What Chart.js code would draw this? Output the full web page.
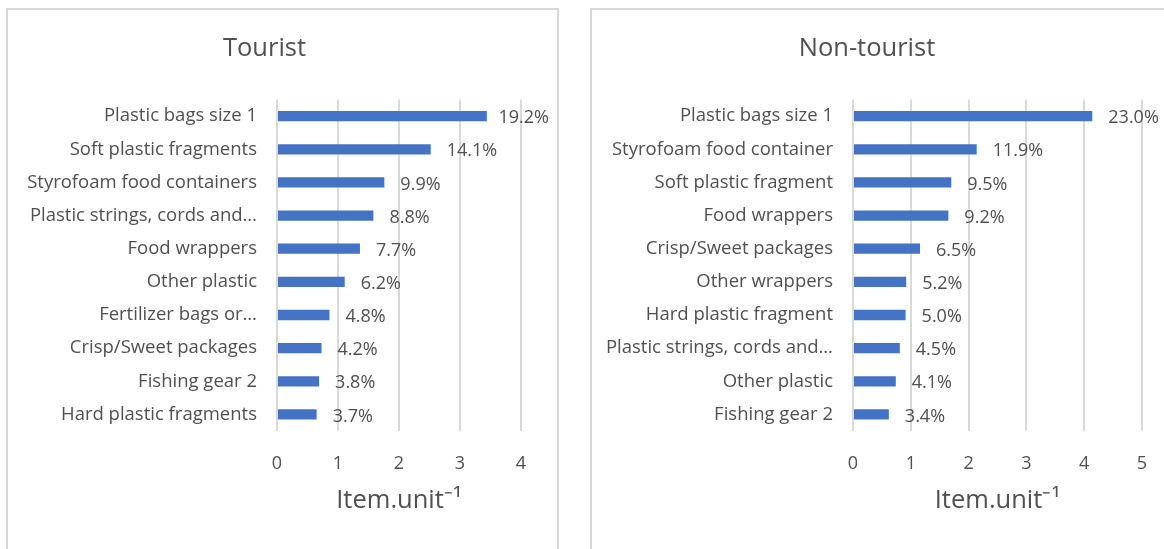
<!DOCTYPE html>
<html lang="en">
<head>
    <meta charset="UTF-8" />
    <title>Tourist vs Non-tourist</title>
    <script src="https://cdn.jsdelivr.net/npm/chart.js"></script>
    <style>
        html, body { margin: 0; padding: 0; background: #fff; overflow: hidden; width: 1164px; height: 549px; }
        .box { position: absolute; border: 2px solid #d9d9d9; background: #fff; }
        #box1 { left: 6px; top: 8px; width: 549px; height: 560px; }
        #box2 { left: 590px; top: 8px; width: 584px; height: 560px; }
        canvas { display: block; }
    </style>
</head>
<body>

<div class="box" id="box1"><canvas id="canvas1" width="549" height="539"></canvas></div>
<div class="box" id="box2"><canvas id="canvas2" width="584" height="539"></canvas></div>

<script>
    // Tourist
    const touristLabels = [
        'Plastic bags size 1', 'Soft plastic fragments', 'Styrofoam food containers',
        'Plastic strings, cords and…', 'Food wrappers', 'Other plastic',
        'Fertilizer bags or…', 'Crisp/Sweet packages', 'Fishing gear 2', 'Hard plastic fragments'
    ];
    const touristValues = [3.44, 2.52, 1.76, 1.58, 1.36, 1.11, 0.86, 0.73, 0.69, 0.65];
    const touristPct = [19.2, 14.1, 9.9, 8.8, 7.7, 6.2, 4.8, 4.2, 3.8, 3.7];
    const touristTicks = [0, 1, 2, 3, 4];

    // Non-tourist
    const nonTouristLabels = [
        'Plastic bags size 1', 'Styrofoam food container', 'Soft plastic fragment',
        'Food wrappers', 'Crisp/Sweet packages', 'Other wrappers',
        'Hard plastic fragment', 'Plastic strings, cords and…', 'Other plastic', 'Fishing gear 2'
    ];
    const nonTouristValues = [4.14, 2.14, 1.70, 1.65, 1.16, 0.92, 0.91, 0.81, 0.74, 0.62];
    const nonTouristPct = [23.0, 11.9, 9.5, 9.2, 6.5, 5.2, 5.0, 4.5, 4.1, 3.4];
    const nonTouristTicks = [0, 1, 2, 3, 4, 5];

    const FONT = '"Open Sans"';
    const GREY = '#505050';

    // etiquetas de porcentagem no fim das barras
    const pctLabels = {
        id: 'pctLabels',
        afterDatasetsDraw(chart, args, opts) {
            const ctx = chart.ctx;
            const meta = chart.getDatasetMeta(0);
            ctx.save();
            ctx.font = '18px ' + FONT;
            ctx.fillStyle = GREY;
            ctx.textBaseline = 'middle';
            ctx.textAlign = 'left';
            meta.data.forEach((bar, i) => {
                const txt = opts.values[i].toFixed(1) + '%';
                const w = ctx.measureText(txt).width;
                let x = bar.x + 16;
                if (x + w > chart.width - 8) x = chart.width - 8 - w;
                ctx.fillText(txt, x, bar.y + 2);
            });
            ctx.restore();
        }
    };

    function makeChart(id, title, labels, values, pct, ticks, yWidth, padRight) {
        const ctx = document.getElementById(id).getContext('2d');
        return new Chart(ctx, {
            type: 'bar',
            data: {
                labels: labels,
                datasets: [{
                    data: values,
                    backgroundColor: '#4472c4',
                    borderWidth: 0,
                    barPercentage: 0.31,
                    categoryPercentage: 1
                }]
            },
            options: {
                indexAxis: 'y',
                responsive: false,
                animation: false,
                layout: { padding: { left: 0, right: padRight, top: 0, bottom: 33 } },
                plugins: {
                    legend: { display: false },
                    tooltip: { enabled: false },
                    title: {
                        display: true,
                        text: title,
                        color: GREY,
                        font: { family: FONT, size: 25.5, weight: 'normal', lineHeight: 1.2 },
                        padding: { top: 23, bottom: 36 }
                    },
                    pctLabels: { values: pct }
                },
                scales: {
                    x: {
                        min: ticks[0],
                        max: ticks[ticks.length - 1],
                        afterBuildTicks: (scale) => { scale.ticks = ticks.map(v => ({ value: v })); },
                        afterFit: (scale) => { scale.height = 85; },
                        grid: { color: '#d9d9d9', lineWidth: 2, drawTicks: false, tickLength: 0 },
                        border: { display: false },
                        ticks: { color: GREY, font: { family: FONT, size: 18 }, padding: 22 },
                        title: {
                            display: true,
                            text: 'Item.unit⁻¹',
                            color: GREY,
                            font: { family: FONT, size: 25.5 },
                            padding: { top: 0, bottom: 0 }
                        }
                    },
                    y: {
                        afterFit: (scale) => { scale.width = yWidth; },
                        grid: { display: false, drawTicks: false },
                        border: { display: false },
                        ticks: { color: GREY, font: { family: FONT, size: 18.5 }, padding: 20, autoSkip: false }
                    }
                }
            },
            plugins: [pctLabels]
        });
    }

    makeChart('canvas1', 'Tourist', touristLabels, touristValues, touristPct, touristTicks, 269, 36);
    makeChart('canvas2', 'Non-tourist', nonTouristLabels, nonTouristValues, nonTouristPct, nonTouristTicks, 261, 34);
</script>
</body>
</html>
